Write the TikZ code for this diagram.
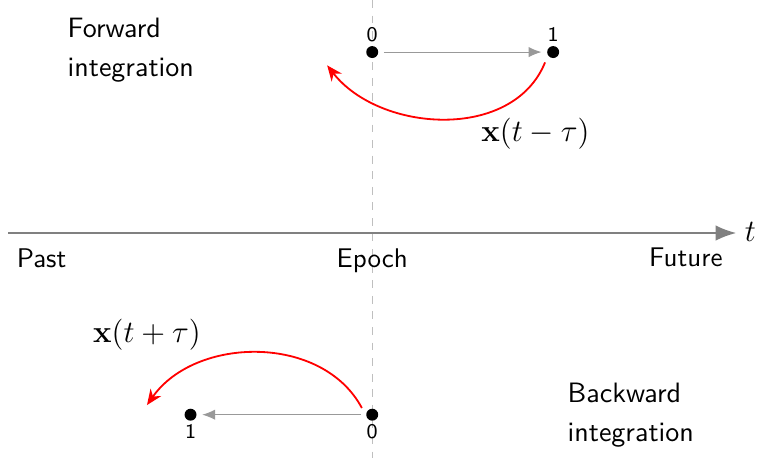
\documentclass[tikz,border=0pt]{standalone}
\usepackage{amsmath}
\usepackage[dvipsnames]{xcolor}
\usetikzlibrary{arrows.meta}

\begin{document}
\begin{tikzpicture}[scale=1,
  dot/.style={circle, fill=black, inner sep=0pt, minimum size=4.6pt},
  num/.style={font=\sffamily\footnotesize, inner sep=1.2pt},
  step arrow/.style={draw=gray!80, thin, -{Latex[length=5pt,width=4pt]}, shorten <=2pt, shorten >=2pt},
  redarc/.style={draw=red, line width=0.7pt, -{Stealth[length=6pt,width=5pt]}},
  lab/.style={font=\fontsize{10.4}{13}\sffamily, align=left, inner sep=0pt},
  biglab/.style={font=\fontsize{10.8}{15}\sffamily, align=left, inner sep=0pt}]
% cadre
\useasboundingbox (-5.04,-3.05) rectangle (5.21,3.155);

% ligne de l'epoque
\draw [gray!50, dashed, very thin] (0,3.155) -- (0,-3.05);

% axe du temps
\coordinate (past) at (-4.93,0);
\coordinate (future end) at (4.93,0);
\node[inner sep=0pt, anchor=west] (t) at (5.04,0.02) {\large $t$};
\draw [gray, thick, -{Latex[length=8pt,width=6pt]}] (past) -- (future end);
\node[lab, anchor=north west] (pastlab) at (-4.82,-0.2) {Past};
\node[lab, anchor=north] (epoch) at (0,-0.2) {Epoch};
\node[lab, anchor=north east] (future) at (4.75,-0.2) {Future};

% integration avant
\node[dot] (f0) at (0,2.45) {};
\node[dot] (f1) at (2.45,2.45) {};
\node[num, above] at (f0.north) {0};
\node[num, above] at (f1.north) {1};
\draw [step arrow] (f0) -- (f1);
\coordinate (fs) at (2.34,2.31);
\coordinate (fe) at (-0.61,2.27);
\draw [redarc] (fs) to[out=-112,in=-52] (fe);
\node (fx) at (2.21,1.35) {\large $\mathbf{x}(t-\tau)$};
\node[biglab, anchor=west] (fwd) at (-4.13,2.47) {Forward\\integration};

% integration arriere
\node[dot] (b0) at (0,-2.46) {};
\node[dot] (b1) at (-2.46,-2.46) {};
\node[num, below] at (b0.south) {0};
\node[num, below] at (b1.south) {1};
\draw [step arrow] (b0) -- (b1);
\coordinate (bs) at (-0.14,-2.37);
\coordinate (be) at (-3.05,-2.33);
\draw [redarc] (bs) to[out=118,in=55] (be);
\node (bx) at (-3.05,-1.38) {\large $\mathbf{x}(t+\tau)$};
\node[biglab, anchor=west] (bwd) at (2.64,-2.47) {Backward\\integration};

\end{tikzpicture}
\end{document}
